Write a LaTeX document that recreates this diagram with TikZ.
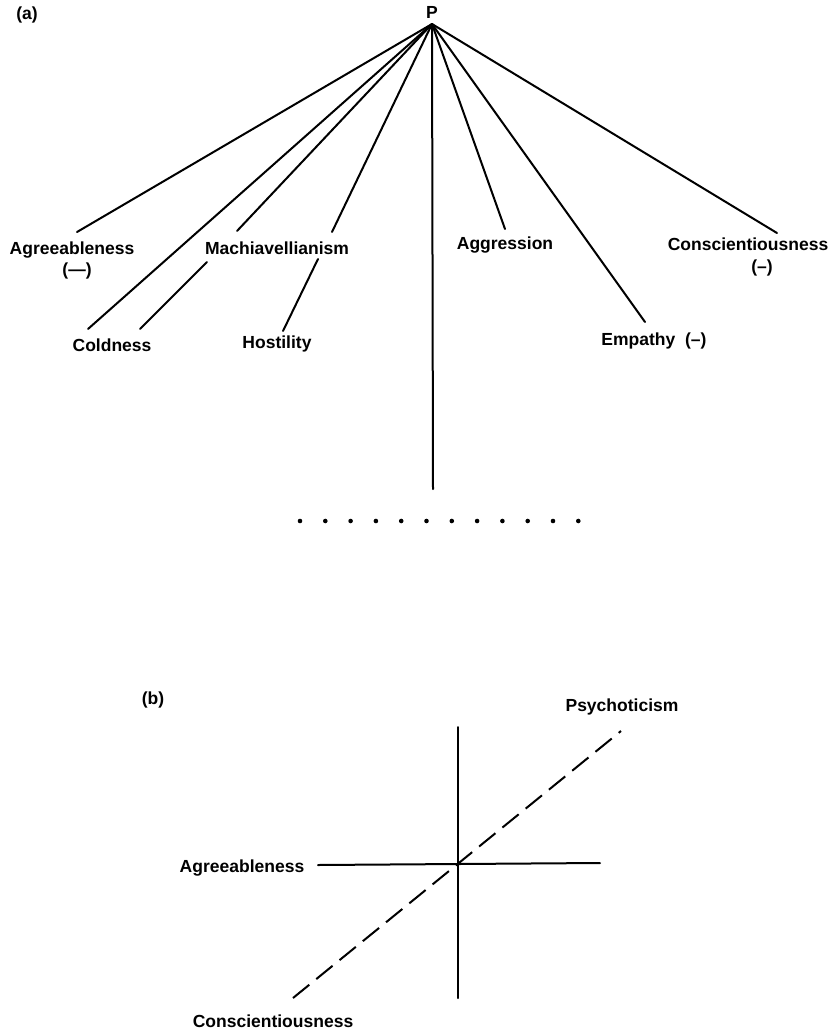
\documentclass[tikz,border=0pt]{standalone}
\usepackage{fontspec}
\setmainfont{Liberation Sans}
\begin{document}
\begin{tikzpicture}[x=1pt,y=-1pt,
  lbl/.style={font=\bfseries\fontsize{17.5}{20}\selectfont, inner sep=0pt},
  ln/.style={line width=2pt, line cap=round},
  dsh/.style={line width=2pt, dash pattern=on 21pt off 9pt}]
\useasboundingbox (0,0) rectangle (830,1031);
% ---------- (a) ----------
\node[lbl] (a) at (27,15) {(a)};
\node[lbl] (P) at (432,12) {P};
\coordinate (apex) at (432,24);
\coordinate (eAgr) at (77,232);
\coordinate (eCold) at (88,329);
\coordinate (eMach) at (237,231);
\coordinate (eHost) at (332,232);
\coordinate (eBot) at (433,489);
\coordinate (eAggr) at (505,229);
\coordinate (eEmp) at (645,322);
\coordinate (eCon) at (777,233);
\coordinate (mC1) at (207,262);
\coordinate (mC2) at (140,329);
\coordinate (mH1) at (318,259);
\coordinate (mH2) at (283,331);

\node[lbl] (agr) at (72,250) {Agreeableness};
\node[lbl] (agrm) at (77,271) {(---)};
\node[lbl] (mach) at (277,248) {Machiavellianism};
\node[lbl] (cold) at (112,345) {Coldness};
\node[lbl] (host) at (277,344) {Hostility};
\node[lbl] (aggr) at (505,245) {Aggression};
\node[lbl] (emp) at (654,341) {Empathy\ \ (--)};
\node[lbl] (con) at (748,244) {Conscientiousness};
\node[lbl] (conm) at (762,268) {(--)};

\foreach \e in {eAgr,eCold,eMach,eHost,eBot,eAggr,eEmp,eCon}
  \draw[ln] (apex) -- (\e);
\draw[ln] (mC1) -- (mC2);
\draw[ln] (mH1) -- (mH2);

\foreach \i in {0,...,11}
  \fill (300+\i*25.3,521) circle (2.3pt);

% ---------- (b) ----------
\node[lbl] (b) at (153,700) {(b)};
\node[lbl] (psy) at (622,707) {Psychoticism};
\node[lbl] (agr2) at (242,868) {Agreeableness};
\node[lbl] (con2) at (273,1021) {Conscientiousness};
\coordinate (vt) at (458,727);
\coordinate (vb) at (458,998);
\coordinate (hl) at (318,865);
\coordinate (hr) at (600,863);
\coordinate (dl) at (293,998);
\coordinate (dr) at (621,731);
\draw[ln] (vt) -- (vb);
\draw[ln] (hl) -- (hr);
\draw[dsh] (dl) -- (dr);
\end{tikzpicture}
\end{document}
